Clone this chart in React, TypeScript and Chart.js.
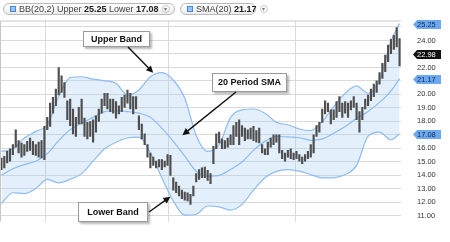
import React, { useEffect, useRef } from 'react';
import { Chart, registerables } from 'chart.js';

Chart.register(...registerables);

// ---- data ----
const barHigh = [
  15.29, 15.42, 15.78, 15.97, 16.28, 17.38, 16.58, 16.40, 16.28, 16.52,
  16.77, 16.52, 16.28, 16.46, 16.58, 17.63, 18.30, 19.35, 19.78, 20.39,
  21.99, 21.37, 20.88, 19.53, 19.65, 18.92, 18.30, 19.04, 19.65, 18.24,
  17.93, 17.99, 18.12, 18.42, 18.92, 19.65, 20.08, 20.08, 19.65, 19.65,
  19.47, 19.16, 19.78, 19.96, 20.33, 20.08, 19.84, 19.84, 18.42, 17.81,
  17.07, 16.28, 15.66, 15.35, 15.05, 15.17, 15.17, 15.05, 15.54, 15.48,
  13.82, 13.51, 13.20, 12.90, 12.77, 12.71, 12.59, 13.20, 14.13, 14.43,
  14.56, 14.62, 14.37, 14.13, 16.15, 17.07, 17.20, 16.71, 16.58, 16.77,
  17.01, 17.69, 17.93, 18.12, 17.69, 17.50, 17.38, 17.50, 17.63, 17.32,
  17.50, 16.28, 15.97, 16.46, 16.77, 17.01, 17.01, 17.01, 15.85, 15.66,
  15.85, 15.97, 15.66, 15.78, 15.54, 15.35, 15.54, 15.78, 16.28, 17.01,
  17.69, 17.93, 18.92, 19.53, 19.35, 18.86, 18.86, 19.47, 19.84, 19.35,
  19.47, 19.35, 19.53, 19.84, 19.35, 18.73, 19.04, 19.65, 19.96, 20.39,
  20.76, 21.01, 21.62, 22.30, 22.91, 23.65, 24.08, 24.38, 24.95, 24.14,
];
const barLow = [
  14.43, 14.56, 14.92, 15.05, 15.54, 16.09, 15.66, 15.35, 15.48, 15.78,
  15.85, 15.54, 15.48, 15.35, 15.29, 15.17, 17.38, 17.63, 18.61, 19.16,
  19.96, 20.15, 19.78, 18.12, 17.69, 17.07, 16.89, 17.81, 17.81, 16.89,
  16.71, 16.89, 16.46, 17.20, 17.99, 18.61, 19.16, 18.92, 18.73, 18.61,
  18.24, 18.55, 18.73, 19.04, 19.35, 18.92, 18.55, 18.92, 17.38, 16.71,
  16.28, 15.35, 14.56, 14.74, 14.56, 14.62, 14.43, 14.62, 14.74, 14.00,
  12.90, 12.71, 12.47, 12.28, 12.16, 12.10, 11.85, 12.47, 13.51, 13.70,
  13.82, 13.82, 13.63, 13.39, 14.86, 15.97, 16.40, 15.97, 15.97, 16.09,
  16.28, 16.28, 16.89, 16.28, 16.89, 16.58, 16.71, 16.71, 16.58, 16.46,
  16.40, 15.66, 15.54, 15.54, 16.09, 16.28, 16.46, 15.66, 15.23, 15.05,
  15.35, 15.23, 15.17, 15.23, 15.05, 14.86, 15.05, 15.23, 15.35, 15.66,
  16.89, 17.20, 17.93, 18.55, 18.73, 17.81, 18.12, 18.30, 18.73, 18.30,
  18.61, 18.30, 18.86, 19.04, 18.12, 17.20, 18.12, 18.92, 19.16, 19.53,
  19.84, 20.15, 20.76, 21.19, 21.68, 22.42, 23.03, 23.34, 23.52, 22.11,
];

const bandIndex = [0, 4, 8, 12, 16, 20, 24, 28, 32, 36, 40, 44, 48, 52, 56, 60, 64, 68,
  72, 76, 80, 84, 88, 92, 96, 100, 104, 108, 112, 116, 120, 124, 128, 132, 136, 139];
const upperBand = [15.78, 15.97, 16.77, 17.26, 17.75, 19.84, 21.25, 21.31, 21.13, 21.01,
  20.82, 19.96, 20.33, 21.31, 21.62, 21.07, 19.72, 16.95, 15.78, 16.28, 18.30, 18.86,
  18.92, 18.61, 17.93, 17.75, 17.44, 17.32, 17.99, 19.10, 20.08, 20.64, 20.08, 21.07,
  23.95, 25.25];
const smaLine = [14.00, 14.49, 14.80, 15.05, 15.60, 16.58, 17.38, 17.87, 18.30, 18.73,
  18.79, 18.73, 18.61, 18.30, 17.50, 16.52, 15.42, 14.31, 13.94, 14.00, 14.43, 14.99,
  15.85, 16.52, 16.88, 16.85, 16.79, 16.60, 16.70, 17.12, 17.62, 18.23, 18.73, 19.41,
  20.27, 21.17];
const lowerBand = [11.91, 12.71, 12.65, 13.02, 13.70, 13.45, 13.70, 14.13, 15.05, 15.97,
  16.46, 16.77, 16.83, 15.66, 13.82, 12.10, 11.05, 11.12, 11.73, 11.67, 11.42, 11.85,
  12.90, 13.82, 14.30, 14.43, 14.31, 14.06, 13.82, 13.82, 14.06, 14.74, 16.89, 17.20,
  16.64, 17.08];

const yTickValues = [11, 12, 13, 14, 15, 16, 17, 18, 19, 20, 21, 22, 23, 24, 25];
const coveredTickValues = [17, 21, 23, 25];
const periodLines = [15.3, 58.3, 102.8];
const lastClose = 22.98;
const upperLast = 25.25;
const lowerLast = 17.08;
const smaLast = 21.17;

const BAND_LINE = '#8dbcf2';
const BAND_FILL = 'rgba(165,203,245,0.30)';
const GRID = '#dadada';

const annotations = [
  { text: 'Upper Band', box: [83, 31, 67, 16], from: [128, 47], tip: [53.0, 21.6] },
  { text: '20 Period SMA', box: [212, 73, 75, 19], from: [236, 92], tip: [63.2, 16.98] },
  { text: 'Lower Band', box: [78, 202, 70, 20], from: [149, 212], tip: [59.0, 12.42] },
];

const overlayPlugin = {
  id: 'overlay',
  afterDraw(chart: any) {
    const { ctx, chartArea, scales } = chart;
    const xs = scales.x;
    const ys = scales.y;
    ctx.save();
    ctx.strokeStyle = '#c6c6c6';
    ctx.lineWidth = 1;
    ctx.beginPath();
    ctx.moveTo(chartArea.left + 0.5, chartArea.bottom);
    ctx.lineTo(chartArea.left + 0.5, chartArea.top + 0.5);
    ctx.lineTo(chartArea.right, chartArea.top + 0.5);
    ctx.stroke();

    for (const a of annotations) {
      const [bx, by, bw, bh] = a.box;
      ctx.save();
      ctx.shadowColor = 'rgba(0,0,0,0.28)';
      ctx.shadowOffsetX = 1.5;
      ctx.shadowOffsetY = 1.5;
      ctx.shadowBlur = 2;
      ctx.fillStyle = '#ffffff';
      ctx.fillRect(bx, by, bw, bh);
      ctx.restore();
      ctx.strokeStyle = '#9a9a9a';
      ctx.lineWidth = 1;
      ctx.strokeRect(bx + 0.5, by + 0.5, bw - 1, bh - 1);
      ctx.fillStyle = '#111';
      ctx.font = 'bold 9px "Liberation Sans", Arial, sans-serif';
      ctx.textAlign = 'center';
      ctx.textBaseline = 'middle';
      ctx.fillText(a.text, bx + bw / 2, by + bh / 2 + 0.5);

      const tx = xs.getPixelForValue(a.tip[0]);
      const ty = ys.getPixelForValue(a.tip[1]);
      const [fx, fy] = a.from;
      const ang = Math.atan2(ty - fy, tx - fx);
      const hl = 7;
      const hw = 3.5;
      ctx.strokeStyle = '#111';
      ctx.lineWidth = 1.4;
      ctx.beginPath();
      ctx.moveTo(fx, fy);
      ctx.lineTo(tx - Math.cos(ang) * hl * 0.8, ty - Math.sin(ang) * hl * 0.8);
      ctx.stroke();
      ctx.fillStyle = '#111';
      ctx.beginPath();
      ctx.moveTo(tx, ty);
      ctx.lineTo(tx - Math.cos(ang) * hl - Math.sin(ang) * hw, ty - Math.sin(ang) * hl + Math.cos(ang) * hw);
      ctx.lineTo(tx - Math.cos(ang) * hl + Math.sin(ang) * hw, ty - Math.sin(ang) * hl - Math.cos(ang) * hw);
      ctx.closePath();
      ctx.fill();
    }

    const badges = [
      { v: upperLast, bg: '#6ea9ef', fg: '#0c2a57' },
      { v: lastClose, bg: '#111111', fg: '#ffffff' },
      { v: smaLast, bg: '#6ea9ef', fg: '#0c2a57' },
      { v: lowerLast, bg: '#6ea9ef', fg: '#0c2a57' },
    ];
    const x0 = chartArea.right + 12;
    for (const b of badges) {
      const y = Math.round(ys.getPixelForValue(b.v)) + 0.5;
      ctx.fillStyle = b.bg;
      ctx.beginPath();
      ctx.moveTo(x0, y);
      ctx.lineTo(x0 + 4, y - 4.5);
      ctx.lineTo(x0 + 28, y - 4.5);
      ctx.lineTo(x0 + 28, y + 4.5);
      ctx.lineTo(x0 + 4, y + 4.5);
      ctx.closePath();
      ctx.fill();
      ctx.fillStyle = b.fg;
      ctx.font = '7.5px "Liberation Sans", Arial, sans-serif';
      ctx.textAlign = 'left';
      ctx.textBaseline = 'middle';
      ctx.fillText(b.v.toFixed(2), chartArea.right + 16, y + 0.5);
    }
    ctx.restore();
  },
};

const pillStyle: React.CSSProperties = {
  position: 'absolute',
  top: 3,
  height: 12,
  boxSizing: 'border-box',
  border: '1px solid #b9b9b9',
  borderRadius: 7,
  background: 'linear-gradient(#ffffff, #ececec)',
  display: 'flex',
  alignItems: 'center',
  paddingLeft: 6,
  font: '9px "Liberation Sans", Arial, sans-serif',
  color: '#444',
  whiteSpace: 'nowrap',
  zIndex: 2,
};
const iconStyle: React.CSSProperties = {
  width: 6,
  height: 6,
  boxSizing: 'border-box',
  border: '1px solid #3f88e4',
  background: '#9cc4f5',
  marginRight: 3,
  flex: 'none',
};
const caretStyle: React.CSSProperties = {
  width: 8,
  height: 8,
  borderRadius: 4,
  border: '1px solid #c9c9c9',
  boxSizing: 'border-box',
  marginLeft: 3,
  fontSize: 6,
  lineHeight: '7px',
  textAlign: 'center',
  color: '#777',
  flex: 'none',
};

export default function App() {
  const ref = useRef<HTMLCanvasElement>(null);
  useEffect(() => {
    const canvas = ref.current;
    if (!canvas) return;
    const bars = barHigh.map((h, i) => ({ x: i, y: [barLow[i], h] }));
    const pts = (vals: number[]) => bandIndex.map((x, i) => ({ x, y: vals[i] }));
    const lineBase = {
      type: 'line' as const,
      borderColor: BAND_LINE,
      borderWidth: 1.2,
      pointRadius: 0,
      cubicInterpolationMode: 'monotone' as const,
    };
    const chart = new Chart(canvas, {
      type: 'bar',
      data: {
        datasets: [
          {
            type: 'bar',
            data: bars as any,
            backgroundColor: '#4e4e4e',
            barThickness: 1.5,
            grouped: false,
            order: 0,
          } as any,
          { ...lineBase, data: pts(upperBand), fill: '+1', backgroundColor: BAND_FILL, order: 3 } as any,
          { ...lineBase, data: pts(lowerBand), fill: false, order: 2 } as any,
          { ...lineBase, data: pts(smaLine), fill: false, order: 1 } as any,
        ],
      },
      options: {
        responsive: false,
        animation: false,
        layout: { padding: 0 },
        plugins: { legend: { display: false }, tooltip: { enabled: false } },
        scales: {
          x: {
            type: 'linear',
            offset: false,
            min: -0.5,
            max: 139.5,
            afterBuildTicks: (s: any) => {
              s.ticks = periodLines.map((v) => ({ value: v }));
            },
            ticks: { display: false },
            grid: { color: GRID, drawTicks: false, offset: false },
            border: { display: false },
            afterFit: (s: any) => {
              s.height = 0;
            },
          },
          y: {
            position: 'right',
            min: 10.58,
            max: 25.48,
            afterBuildTicks: (s: any) => {
              s.ticks = yTickValues.map((v) => ({ value: v }));
            },
            ticks: {
              padding: 16,
              color: '#333',
              font: { family: '"Liberation Sans", Arial, sans-serif', size: 7.5 },
              callback: (v: any) => (coveredTickValues.includes(Number(v)) ? '' : Number(v).toFixed(2)),
            },
            grid: { color: GRID, drawTicks: false },
            border: { display: false },
            afterFit: (s: any) => {
              s.width = 49;
            },
          },
        },
      },
      plugins: [overlayPlugin],
    });
    return () => chart.destroy();
  }, []);

  return (
    <div style={{ position: 'fixed', left: 0, top: 0, width: 450, height: 242, background: '#fff', overflow: 'hidden' }}>
      <canvas ref={ref} width={450} height={242} style={{ position: 'absolute', left: 0, top: 0, width: 450, height: 242 }} />
      <div style={{ ...pillStyle, left: 3, width: 172 }}>
        <span style={iconStyle} />
        <span>BB(20,2)&nbsp;Upper&nbsp;<b style={{ color: '#222' }}>{upperLast.toFixed(2)}</b>&nbsp;Lower&nbsp;<b style={{ color: '#222' }}>{lowerLast.toFixed(2)}</b></span>
        <span style={caretStyle}>▾</span>
      </div>
      <div style={{ ...pillStyle, left: 180, width: 76 }}>
        <span style={iconStyle} />
        <span>SMA(20)&nbsp;<b style={{ color: '#222' }}>{smaLast.toFixed(2)}</b></span>
        <span style={caretStyle}>▾</span>
      </div>
    </div>
  );
}
